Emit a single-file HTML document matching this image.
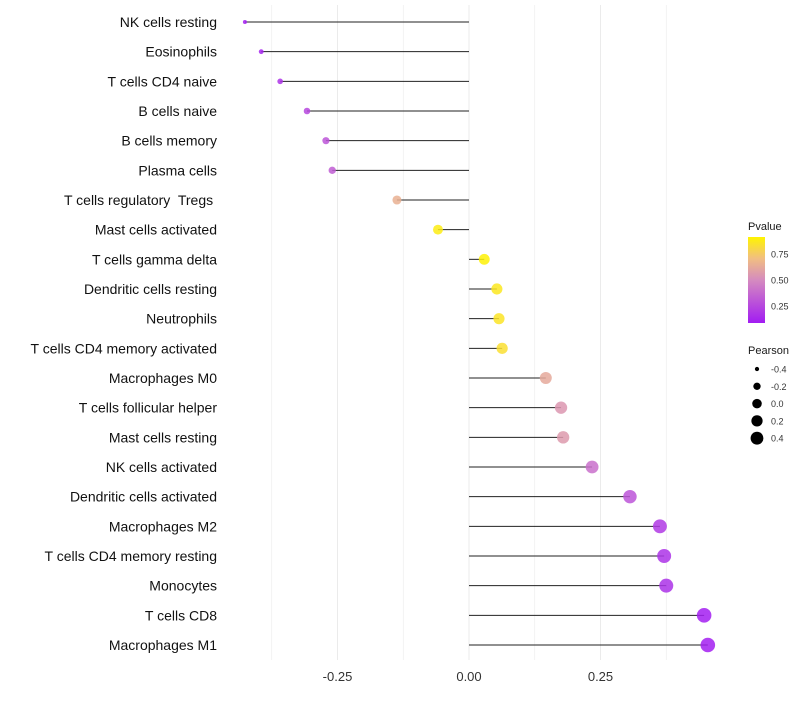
<!DOCTYPE html>
<html><head><meta charset="utf-8"><style>
body{margin:0;background:#fff;font-family:"Liberation Sans",sans-serif}
</style></head><body>
<svg id="c" width="800" height="700" xmlns="http://www.w3.org/2000/svg">
<defs><linearGradient id="pg" x1="0" y1="1" x2="0" y2="0">
<stop offset="0" stop-color="#a21cf2"/><stop offset="0.5" stop-color="#d58bbf"/><stop offset="0.75" stop-color="#f1be82"/><stop offset="1" stop-color="#fff400"/></linearGradient></defs>
<g id="grid"></g><g id="marks"></g><g id="labels"></g><g id="legend"></g>
</svg>
<script>
const categories=["NK cells resting","Eosinophils","T cells CD4 naive","B cells naive","B cells memory","Plasma cells","T cells regulatory\u00a0 Tregs\u00a0","Mast cells activated","T cells gamma delta","Dendritic cells resting","Neutrophils","T cells CD4 memory activated","Macrophages M0","T cells follicular helper","Mast cells resting","NK cells activated","Dendritic cells activated","Macrophages M2","T cells CD4 memory resting","Monocytes","T cells CD8","Macrophages M1"];
const pearson=[-0.426,-0.395,-0.359,-0.308,-0.272,-0.260,-0.137,-0.059,0.029,0.053,0.057,0.063,0.146,0.175,0.179,0.234,0.306,0.363,0.371,0.375,0.447,0.454];
const pvalue=[0.1,0.12,0.18,0.25,0.3,0.33,0.65,0.88,0.9,0.86,0.85,0.83,0.62,0.55,0.56,0.4,0.3,0.2,0.18,0.17,0.1,0.1];
const xTicks=[-0.25,0,0.25];
const xTickLabels=["-0.25","0.00","0.25"];
const NS="http://www.w3.org/2000/svg";
const x=v=>469+v*526;
const y=i=>22+i*(623/21);
const r=v=>Math.sqrt(Math.max(2,28+v*56));
function mk(t,a,p){const e=document.createElementNS(NS,t);for(const k in a)e.setAttribute(k,a[k]);p.appendChild(e);return e;}
function lerp(a,b,t){return a.map((v,i)=>Math.round(v+(b[i]-v)*t));}
const stops=[[0,[162,28,242]],[0.5,[213,139,191]],[0.75,[241,190,130]],[1,[255,244,0]]];
function col(p){let t=(p-0.09)/(0.91-0.09);t=Math.max(0,Math.min(1,t));for(let i=1;i<stops.length;i++){if(t<=stops[i][0]){const c=lerp(stops[i-1][1],stops[i][1],(t-stops[i-1][0])/(stops[i][0]-stops[i-1][0]));return`rgb(${c})`;}}return"rgb(255,244,0)";}
const G=document.getElementById('grid'),M=document.getElementById('marks'),L=document.getElementById('labels'),LG=document.getElementById('legend');
for(let v=-0.375;v<=0.40;v+=0.125){const l=mk('line',{x1:x(v),x2:x(v),y1:5,y2:660,stroke:'#ebebeb','stroke-width':Math.abs(v/0.25-Math.round(v/0.25))<1e-6?1:0.6},G);

}
xTicks.forEach((v,i)=>{const t=mk('text',{x:x(v),y:681,'text-anchor':'middle','font-size':13,fill:'#333'},L);t.textContent=xTickLabels[i];

});
categories.forEach((c,i)=>{
const t=mk('text',{x:217,y:y(i)+5,'text-anchor':'end','font-size':14,fill:'#111'},L);t.textContent=c;


const ln=mk('line',{x1:x(0),x2:x(pearson[i]),y1:y(i),y2:y(i),stroke:'#222','stroke-width':1},M);


const p=mk('circle',{cx:x(pearson[i]),cy:y(i),r:r(pearson[i]),fill:col(pvalue[i]),'fill-opacity':0.85},M);


});
let t=mk('text',{x:748,y:230,'font-size':11,fill:'#1a1a1a'},LG);t.textContent='Pvalue';


const bar=mk('rect',{x:748,y:237,width:17,height:86,fill:'url(#pg)'},LG);


[[0.75,254],[0.5,280],[0.25,306]].forEach(([v,yy])=>{const tt=mk('text',{x:771,y:yy+3.5,'font-size':9,fill:'#333'},LG);tt.textContent=v.toFixed(2);

});
t=mk('text',{x:748,y:354,'font-size':11,fill:'#1a1a1a'},LG);t.textContent='Pearson';


[-0.4,-0.2,0,0.2,0.4].forEach((v,i)=>{const yy=369+i*17.3;const c=mk('circle',{cx:757,cy:yy,r:r(v)*0.9,fill:'#000'},LG);


const tt=mk('text',{x:771,y:yy+3.5,'font-size':9,fill:'#333'},LG);tt.textContent=v.toFixed(1);

});
</script>
</body></html>
